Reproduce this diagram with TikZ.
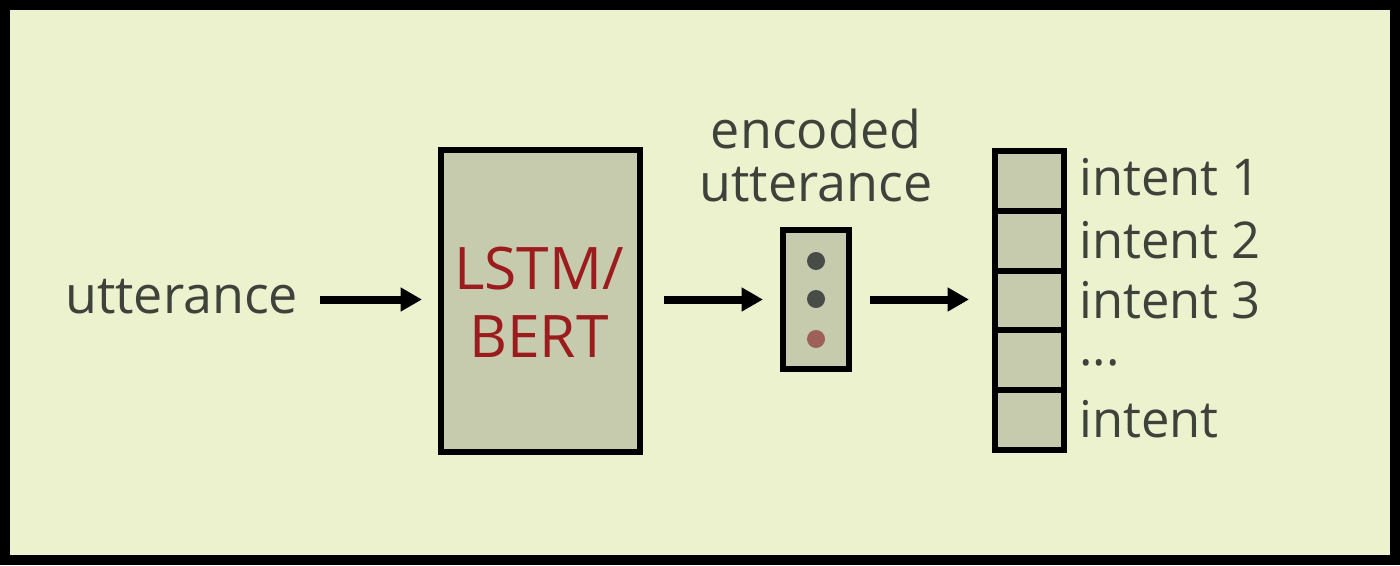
\documentclass[tikz,border=0pt]{standalone}
\usepackage{fontspec}
\setmainfont{Open Sans}
\usetikzlibrary{arrows.meta}
\definecolor{bgc}{RGB}{236,241,206}
\definecolor{boxc}{RGB}{198,203,174}
\definecolor{txtc}{RGB}{62,66,59}
\definecolor{redc}{RGB}{156,28,30}
\definecolor{dotc}{RGB}{72,76,70}
\definecolor{dotr}{RGB}{158,96,90}
\tikzset{
  blk/.style={draw=black, fill=boxc, line width=4.5pt, inner sep=0pt, outer sep=0pt},
  lbl/.style={text=txtc, inner sep=0pt, font=\fontsize{39}{45}\selectfont},
  ilbl/.style={text=txtc, inner sep=0pt, anchor=base west, font=\fontsize{38}{44}\selectfont},
  arr/.style={draw=black, line width=6pt, -{Triangle[length=16pt,width=17pt]}},
  dotn/.style={circle, fill=dotc, minimum size=13.5pt, inner sep=0pt}
}
\begin{document}
\begin{tikzpicture}[x=0.75pt,y=-0.75pt]
\useasboundingbox (0,0) rectangle (1400,565);
\fill[black] (0,0) rectangle (1400,565);
\fill[bgc] (10,10) rectangle (1390,555);
% nodes
\node[lbl, anchor=base west] (utt) at (65,313) {utterance};
\node[blk, minimum width=149.25pt, minimum height=226.5pt] (lstm) at (540.5,301) {};
\node[text=redc, align=center, font=\fontsize{44}{51}\selectfont, inner sep=0pt] (lstmt) at (539,302) {LSTM/\\BERT};
\node[lbl, align=center, font=\fontsize{39}{39.75}\selectfont] (enct) at (816,155) {encoded\\utterance};
\node[blk, minimum width=49.5pt, minimum height=104.25pt] (enc) at (816,299.5) {};
\node[dotn] (d1) at (816,261) {};
\node[dotn] (d2) at (816,299) {};
\node[dotn, fill=dotr] (d3) at (816,339) {};
\foreach \i/\y in {1/180.9,2/240.7,3/300.5,4/360.3,5/420.1}{
  \node[blk, minimum width=51.75pt, minimum height=44.85pt] (c\i) at (1029.5,\y) {};
}
\node[ilbl] (i1) at (1079,195) {intent 1};
\node[ilbl] (i2) at (1079,258) {intent 2};
\node[ilbl] (i3) at (1079,318) {intent 3};
\node[ilbl] (i4) at (1079,365) {...};
\node[ilbl] (i5) at (1079,437) {intent};
% arrows
\draw[arr, shorten <=16.5pt, shorten >=14.25pt] (utt.east |- enc.center) -- (lstm.west |- enc.center);
\draw[arr, shorten <=18pt, shorten >=15pt] (lstm.east |- enc.center) -- (enc.west);
\draw[arr, shorten <=15.75pt, shorten >=19.5pt] (enc.east) -- (c3.west |- enc.east);
\end{tikzpicture}
\end{document}
